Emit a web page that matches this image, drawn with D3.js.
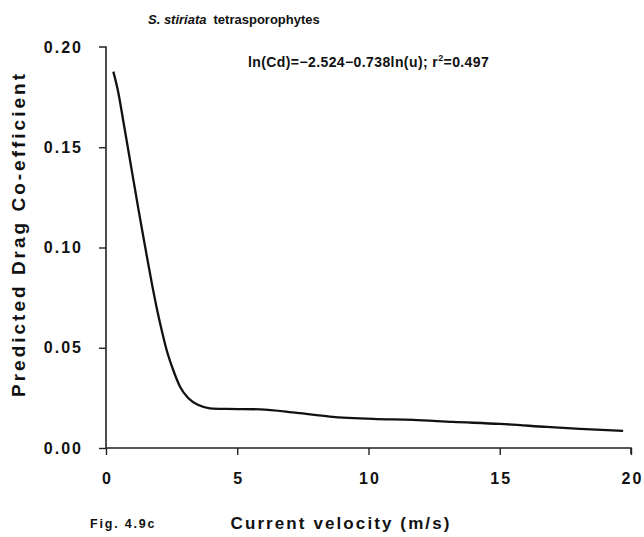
<!DOCTYPE html>
<html>
<head>
<meta charset="utf-8">
<script src="https://cdn.jsdelivr.net/npm/d3@7"></script>
<style>
  html, body { margin: 0; padding: 0; background: #fff; }
  svg { display: block; }
  text { font-family: "Liberation Sans", Arial, sans-serif; fill: #111; }
</style>
</head>
<body>
<script>
// Predicted drag coefficient against current velocity (fitted curve)
const velocity = [0.28, 0.47, 0.66, 0.85, 1.04, 1.23, 1.42, 1.60, 1.77, 1.93, 2.12, 2.31, 2.56, 2.82, 3.14, 3.52, 3.96, 4.60, 5.87, 7.28, 8.53, 10.17, 11.70, 13.22, 15.01, 16.80, 18.06, 19.70];
const dragCoef = [0.1877, 0.1772, 0.1630, 0.1485, 0.1340, 0.1195, 0.1055, 0.0925, 0.0805, 0.0700, 0.0589, 0.0489, 0.0389, 0.0306, 0.0248, 0.0214, 0.0198, 0.0195, 0.0193, 0.0175, 0.0157, 0.0145, 0.0140, 0.0130, 0.0120, 0.0105, 0.0095, 0.0085];
const xTicks = [0, 5, 10, 15, 20];
const yTicks = [0.00, 0.05, 0.10, 0.15, 0.20];

const W = 644, H = 537;
const svg = d3.select("body").append("svg").attr("width", W).attr("height", H);

const x = d3.scaleLinear().domain([0, 20]).range([106, 631]);
const y = d3.scaleLinear().domain([0, 0.20]).range([448, 47]);

// axes
const xAxis = d3.axisBottom(x).tickValues(xTicks).tickSize(7).tickPadding(18)
  .tickFormat(d3.format("d"));
const gx = svg.append("g").attr("transform", `translate(0,${y(0)})`).call(xAxis);
const yAxis = d3.axisLeft(y).tickValues(yTicks).tickSize(7).tickPadding(16)
  .tickFormat(d3.format(".2f"));
const gy = svg.append("g").attr("transform", `translate(${x(0)},0)`).call(yAxis);

[gx, gy].forEach(g => {
  g.select(".domain").attr("stroke", "#222").attr("stroke-width", 1.6)
    .attr("d", g === gx ? `M${x(0)},0H${x(20)}v6` : `M-7,${y(0.20)}H0V${y(0)}`);
  g.selectAll(".tick line").attr("stroke", "#222").attr("stroke-width", 1.4);
  g.selectAll(".tick text").attr("font-size", 16).attr("font-weight", "bold")
    .attr("letter-spacing", 2).attr("fill", "#111")
    .style("font-family", "'Liberation Sans', Arial, sans-serif");
});
gx.selectAll(".tick text").attr("dx", 1);
gy.selectAll(".tick").filter(d => d === 0.20).select("line").remove();

// fitted curve
const pts = velocity.map((v, i) => [v, dragCoef[i]]);
const line = d3.line().x(d => x(d[0])).y(d => y(d[1])).curve(d3.curveMonotoneX);
svg.append("path").datum(pts).attr("d", line)
  .attr("fill", "none").attr("stroke", "#111").attr("stroke-width", 2.3)
  .attr("stroke-linejoin", "round");

// titles and annotations
const t1 = svg.append("text").attr("x", 148).attr("y", 24).attr("font-size", 13).attr("font-weight", "bold");
t1.append("tspan").attr("font-style", "italic").text("S. stiriata");
t1.append("tspan").attr("dx", 7).text("tetrasporophytes");

const eq = svg.append("text").attr("x", 248).attr("y", 67).attr("font-size", 14)
  .attr("font-weight", "bold").attr("letter-spacing", 0.4);
eq.append("tspan").text("ln(Cd)=\u22122.524\u22120.738ln(u); r");
eq.append("tspan").attr("font-size", 9).attr("dy", -6).text("2");
eq.append("tspan").attr("dy", 6).text("=0.497");

svg.append("text")
  .attr("transform", "translate(25,234) rotate(-90)")
  .attr("text-anchor", "middle").attr("font-size", 19).attr("font-weight", "bold")
  .attr("letter-spacing", 3)
  .text("Predicted Drag Co-efficient");

svg.append("text").attr("x", 341).attr("y", 529).attr("text-anchor", "middle")
  .attr("font-size", 17).attr("font-weight", "bold").attr("letter-spacing", 2.1)
  .text("Current velocity (m/s)");

svg.append("text").attr("x", 90).attr("y", 528).attr("font-size", 12.5).attr("font-weight", "bold")
  .attr("letter-spacing", 1.8)
  .text("Fig. 4.9c");
</script>
</body>
</html>
